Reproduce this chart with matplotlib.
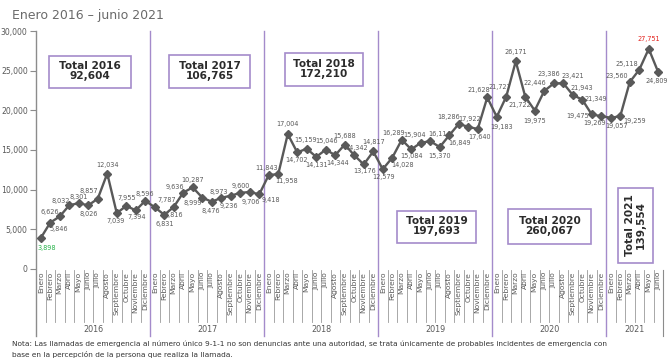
import matplotlib
matplotlib.use("Agg")
import matplotlib.pyplot as plt
from matplotlib.patches import Rectangle
from matplotlib.transforms import blended_transform_factory

# ---- data -------------------------------------------------------------
years = ["2016", "2017", "2018", "2019", "2020", "2021"]
months = ["Enero", "Febrero", "Marzo", "Abril", "Mayo", "Junio", "Julio",
          "Agosto", "Septiembre", "Octubre", "Noviembre", "Diciembre"]

calls_2016 = [3898, 5846, 6626, 8032, 8301, 8026, 8857, 12034, 7039, 7955, 7394, 8596]
calls_2017 = [7787, 6831, 7816, 9636, 10287, 8999, 8476, 8973, 9236, 9600, 9706, 9418]
calls_2018 = [11843, 11958, 17004, 14702, 15159, 14131, 15046, 14344, 15688, 14342, 13176, 14817]
calls_2019 = [12579, 14028, 16289, 15084, 15904, 16114, 15370, 16849, 18286, 17922, 17640, 21628]
calls_2020 = [19183, 21727, 26171, 21722, 19975, 22446, 23386, 23421, 21943, 21349, 19475, 19269]
calls_2021 = [19057, 19259, 23560, 25118, 27751, 24809]

year_totals = ["92,604", "106,765", "172,210", "197,693", "260,067", "139,554"]

title = "Enero 2016 \u2013 junio 2021"
note_lines = [
    "Nota: Las llamadas de emergencia al número único 9-1-1 no son denuncias ante una autoridad, "
    "se trata únicamente de probables incidentes de emergencia con",
    "base en la percepción de la persona que realiza la llamada.",
]

series = [calls_2016, calls_2017, calls_2018, calls_2019, calls_2020, calls_2021]
values = [v for s in series for v in s]
month_labels = [months[i] for s in series for i in range(len(s))]
x = list(range(len(values)))

# label offsets (pixels, dx right / dy down) for each value label
label_offsets = [
    (6, 10), (8, 6), (-10, -4), (-9, -4), (0, -6), (0, 9), (-9, -8), (0, -9), (-1, 8), (0, -8), (1, 7), (0, -7),
    (12, -7), (1, 9), (0, 8), (-8, -6), (0, -7), (-10, 5), (-1, 9), (-3, -6), (-2, 10), (0, -7), (1, 10), (12, 6),
    (-2, -7), (8, 7), (0, -10), (-1, 8), (-1, -9), (0, 8), (1, -9), (2, 8), (0, -9), (2, -7), (1, 7), (0, -9),
    (1, 8), (10, 7), (-8, -7), (0, 7), (-6, -8), (9, -7), (0, 9), (10, 8), (-10, -7), (1, -8), (2, 8), (-8, -7),
    (5, 10), (-6, -10), (0, -9), (-5, 8), (0, 10), (-9, -8), (-5, -9), (10, -7), (9, -7), (14, -1), (-14, 2), (-7, 7),
    (6, 8), (14, 5), (-13, -6), (-12, -6), (0, -10), (-2, 9),
]

# ---- figure -----------------------------------------------------------
W, H = 668, 362
fig = plt.figure(figsize=(W / 100, H / 100), dpi=100)
fig.patch.set_facecolor("white")

def fx(px):
    return px / W

def fy(py):
    return 1 - py / H

ax_left, ax_right, ax_top, ax_bottom = 36, 663, 31, 269
ax = fig.add_axes([fx(ax_left), fy(ax_bottom), fx(ax_right - ax_left), (ax_bottom - ax_top) / H])
ax.set_xlim(-0.5, len(values) - 0.5)
ax.set_ylim(0, 30000)

for sp in ax.spines.values():
    sp.set_visible(False)

grey = "#595959"
purple = "#A48BCB"
font = "DejaVu Sans"

ax.plot(x, values, color=grey, lw=1.7, marker="D", markersize=3.6,
        markerfacecolor=grey, markeredgecolor=grey, zorder=3)

vmin, vmax = min(values), max(values)
for xi, v, (dx, dy) in zip(x, values, label_offsets):
    color = grey
    if v == vmin:
        color = "#27B24A"
    elif v == vmax:
        color = "#E3201B"
    ax.annotate(f"{v:,}", (xi, v), xytext=(dx, -dy), textcoords="offset pixels",
                ha="center", va="center", fontsize=4.7, color=color, family=font,
                zorder=4)

# y axis
ax.set_yticks(range(0, 30001, 5000))
ax.set_yticklabels([f"{t:,}" for t in range(0, 30001, 5000)], fontsize=5.6, color=grey, family=font)
ax.tick_params(axis="y", length=4, width=0.8, color="#8c8c8c", pad=2)

# x axis: rotated month names
ax.set_xticks(x)
ax.set_xticklabels(month_labels, rotation=90, fontsize=5.4, color=grey, family=font)
ax.tick_params(axis="x", length=0, pad=2)

bt = blended_transform_factory(ax.transData, ax.transAxes)
y_cells = (ax_bottom - 322) / (ax_bottom - ax_top)
y_years = (ax_bottom - 336) / (ax_bottom - ax_top)
y_year_lbl = (ax_bottom - 330) / (ax_bottom - ax_top)

# thin separators between month labels
for b in range(len(values) + 1):
    ax.plot([b - 0.5, b - 0.5], [-0.005, y_cells], transform=bt, color="#9a9a9a",
            lw=0.6, clip_on=False, zorder=1)

# year separators and outer frame lines
start = 0
for k, s in enumerate(series):
    end = start + len(s)
    ax.text((start + end - 1) / 2, y_year_lbl, years[k], transform=bt, ha="center",
            va="center", fontsize=5.8, color=grey, family=font)
    if k < len(series) - 1:
        ax.plot([end - 0.5, end - 0.5], [1.0, y_years], transform=bt, color=purple,
                lw=1.0, clip_on=False, zorder=1)
    start = end
ax.plot([-0.5, -0.5], [1.0, y_years], transform=bt, color="#8c8c8c", lw=1.0, clip_on=False)
ax.plot([len(values) - 0.5] * 2, [-0.005, y_years], transform=bt, color="#8c8c8c", lw=0.8,
        clip_on=False)

# yearly total boxes
boxes = [(49, 56, 131, 88), (169, 55, 250, 88), (285, 53, 363, 86),
         (397, 211, 476, 243), (508, 209, 591, 244), (618, 188, 653, 263)]
for k, (x0, y0, x1, y1) in enumerate(boxes):
    fig.patches.append(Rectangle((fx(x0), fy(y1)), fx(x1 - x0), (y1 - y0) / H,
                                 transform=fig.transFigure, fill=True, facecolor="white",
                                 edgecolor=purple, lw=1.2, zorder=5))
    rot = 90 if (y1 - y0) > (x1 - x0) else 0
    fig.text(fx((x0 + x1) / 2), fy((y0 + y1) / 2) + 0.002, f"Total {years[k]}\n{year_totals[k]}",
             ha="center", va="center", rotation=rot, fontsize=7.6, fontweight="bold",
             color="#2b2b2b", family=font, linespacing=1.05, zorder=6)

fig.text(fx(12), fy(16), title, ha="left", va="center", fontsize=9, color="#6a6a6a", family=font)
fig.text(fx(12), fy(344), note_lines[0], ha="left", va="center", fontsize=5.3, color="#333333", family=font)
fig.text(fx(12), fy(355), note_lines[1], ha="left", va="center", fontsize=5.3, color="#333333", family=font)

fig.savefig("out.png", dpi=100, facecolor="white")
